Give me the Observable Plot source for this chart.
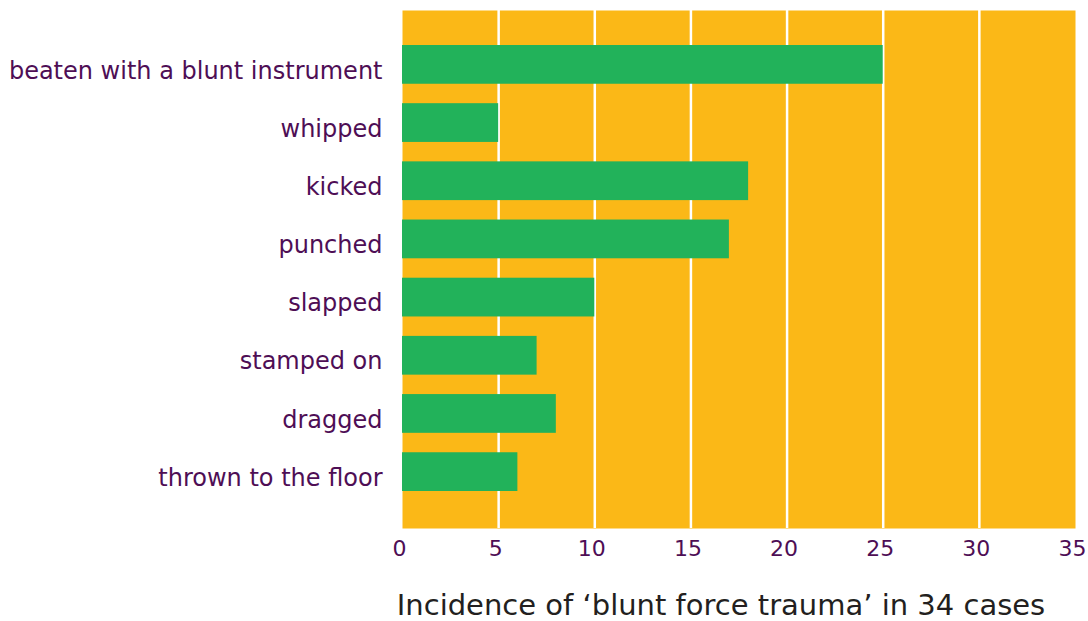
<!DOCTYPE html>
<html><head><meta charset="utf-8">
<script src="https://cdn.jsdelivr.net/npm/d3@7"></script>
<script src="https://cdn.jsdelivr.net/npm/@observablehq/plot@0.6"></script>
<style>body{margin:0;background:#fff;} svg{display:block;}</style>
</head><body><div id="chart"></div>
<script>
const categories = ["beaten with a blunt instrument","whipped","kicked","punched","slapped","stamped on","dragged","thrown to the floor"];
const counts = [25, 5, 18, 17, 10, 7, 8, 6];
const xTicks = [0, 5, 10, 15, 20, 25, 30, 35];
const gridTicks = [5, 10, 15, 20, 25, 30];
const axisTitle = ["Incidence of \u2018blunt force trauma\u2019 in 34 cases"];

const data = categories.map((c, i) => ({category: c, value: counts[i]}));
const font = "'DejaVu Sans', Verdana, sans-serif";
const purple = "#4E0E55";

const chart = Plot.plot({
  width: 1088, height: 621,
  marginLeft: 402, marginRight: 13, marginTop: 10, marginBottom: 93,
  style: {fontFamily: font, background: "#fff"},
  x: {domain: [0, 35], ticks: xTicks, label: null},
  y: {domain: categories, range: [45, 491], paddingInner: 0.334, paddingOuter: 0, round: false, label: null},
  marks: [
    Plot.frame({fill: "#FBB817", stroke: null}),
    Plot.gridX(gridTicks, {stroke: "#fff", strokeOpacity: 1, strokeWidth: 2.5}),
    Plot.barX(data, {x: "value", y: "category", fill: "#22B25A"}),
    Plot.axisX(xTicks, {tickSize: 0, tickPadding: 12, dx: -3, fontSize: 22, fill: purple, label: null}),
    Plot.axisY({tickSize: 0, tickPadding: 20, fontSize: 24, dy: 6, fill: purple, label: null}),
    Plot.text(axisTitle, {frameAnchor: "bottom", dy: 86, dx: -18, fontSize: 29, fill: "#231F20", text: d => d})
  ]
});
document.getElementById("chart").appendChild(chart);
</script></body></html>
